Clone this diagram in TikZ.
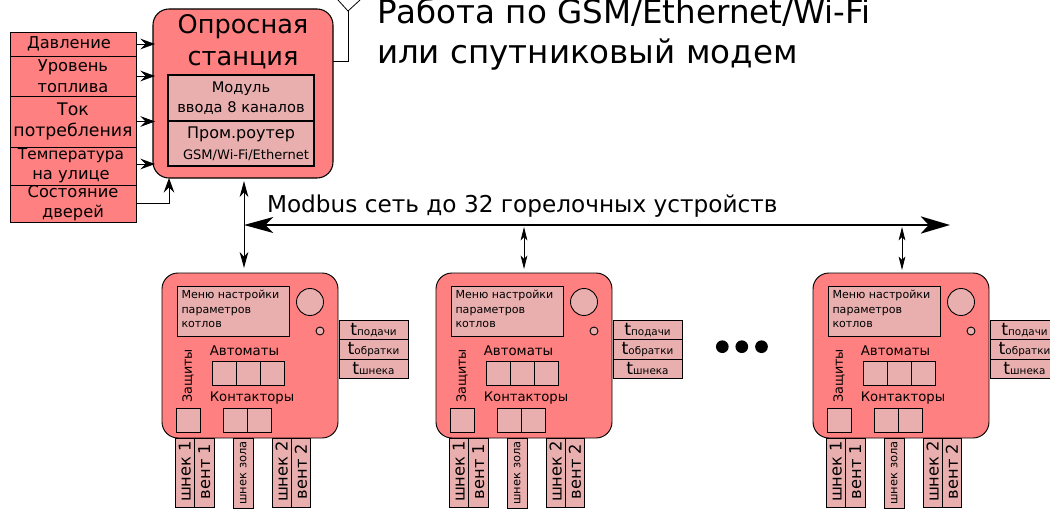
\documentclass[tikz,border=0pt]{standalone}
\usepackage{fontspec}
\setmainfont{DejaVu Sans}
\usetikzlibrary{arrows.meta,calc}
\definecolor{redfill}{HTML}{FF8080}
\definecolor{pinkfill}{HTML}{E9AFAF}
\tikzset{
  redbox/.style={draw=black,fill=redfill,line width=0.7pt,inner sep=0pt,outer sep=0pt,align=center},
  pinkbox/.style={draw=black,fill=pinkfill,line width=0.9pt,inner sep=0pt,outer sep=0pt,align=center},
  wire/.style={draw=black,line width=0.6pt},
  intip/.style={-{Stealth[inset=4pt,length=11pt,width=8pt]},wire,shorten >=-1.5pt},
  bothtip/.style={{Stealth[inset=2.5pt,length=10pt,width=5pt]}-{Stealth[inset=2.5pt,length=10pt,width=5pt]},wire},
  bothtipbig/.style={{Stealth[inset=3.5pt,length=12pt,width=6.5pt]}-{Stealth[inset=3.5pt,length=12pt,width=6.5pt]},wire,line width=0.75pt},
  bigtip/.style={{Stealth[inset=6pt,length=22pt,width=12pt]}-{Stealth[inset=6pt,length=22pt,width=13pt]},line width=1.1pt},
  lbl/.style={inner sep=0pt,outer sep=0pt,align=center},
  dotmark/.style={circle,fill=black,minimum size={12.7*0.75pt},inner sep=0pt},
}
\newcommand{\fz}[2]{\fontsize{#1}{#2}\selectfont}
\newcommand{\pbox}[7][pinkbox]{%
  \node[#1,minimum width={(#4-#2)*0.75pt},minimum height={(#5-#3)*0.75pt}] (#6) at ({(#2+#4)/2},{(#3+#5)/2}) {#7};}
\newcommand{\tlabel}[1]{{\fz{13}{13}t}{\fz{7.8}{8}#1}}
\newcommand{\uprot}[3]{\rotatebox{90}{\hspace*{#1}\fz{#2}{#2}#3}}
\newcommand{\burner}[2]{%
 \begin{scope}[shift={(#2,0)},pinkbox/.append style={line width=0.75pt}]
  \node[redbox,rounded corners=12pt,minimum width={176*0.75pt},minimum height={165*0.75pt}] (#1) at (250,355.5) {};
  \pbox{177}{286}{289}{336}{#1scr}{}
  \node[lbl,align=left,anchor=north west,font=\fz{8.3}{10.6}] (#1txt) at (181.5,290.5) {Меню настройки\\параметров\\котлов};
  \node[draw=black,fill=pinkfill,line width=0.65pt,circle,minimum size={27*0.75pt},inner sep=0pt] (#1k) at (310,302) {};
  \node[draw=black,fill=pinkfill,line width=0.65pt,circle,minimum size={8*0.75pt},inner sep=0pt] (#1l) at (320,331) {};
  \pbox{339}{320}{408}{339.5}{#1ta}{\tlabel{подачи}}
  \pbox{339}{339.5}{408}{359}{#1tb}{\tlabel{обратки}}
  \pbox{339}{359}{408}{378}{#1tc}{\tlabel{шнека}}
  \node[lbl] (#1aut) at (244.5,350.5) {\fz{10}{10}Автоматы};
  \pbox{212}{361}{236}{385}{#1a}{}
  \pbox{236}{361}{260}{385}{#1b}{}
  \pbox{260}{361}{284}{385}{#1c}{}
  \node[lbl] (#1con) at (252,398.5) {\fz{9.9}{10}Контакторы};
  \pbox{223}{408}{247}{432}{#1d}{}
  \pbox{247}{408}{271}{432}{#1e}{}
  \pbox{176}{408}{200}{432}{#1f}{}
  \node[lbl,rotate=90] (#1zas) at (188,376) {\fz{9.6}{10}Защиты};
  \pbox{175}{438}{194.5}{507}{#1g}{\uprot{1.5pt}{12.2}{шнек 1}}
  \pbox{194.5}{438}{214}{507}{#1h}{\uprot{1.5pt}{12.2}{вент 1}}
  \pbox{233.5}{438}{253}{508}{#1i}{\uprot{0pt}{8.6}{шнек зола}}
  \pbox{272}{438}{291.5}{507}{#1m}{\uprot{1.5pt}{12.2}{шнек 2}}
  \pbox{291.5}{438}{310.5}{507}{#1n}{\uprot{1.5pt}{12.2}{вент 2}}
 \end{scope}}
\begin{document}
\begin{tikzpicture}[x=0.75pt,y=-0.75pt]
\useasboundingbox (0,0) rectangle (1050,510);
% sensors
\pbox[redbox,font=\fz{12.2}{15}]{10}{32}{136}{56}{s1}{Давление\hspace*{6pt}}
\pbox[redbox,font=\fz{12.2}{15.5}]{10}{56}{136}{96}{s2}{Уровень\\топлива}
\pbox[redbox,font=\fz{13}{16}]{10}{96}{136}{147}{s3}{Ток\\потребления}
\pbox[redbox,font=\fz{12.2}{15}]{10}{147}{136}{185}{s4}{{\fz{11.5}{15}Температура}\hspace*{3pt}\\на улице\hspace*{3pt}}
\pbox[redbox,font=\fz{12.2}{15}]{10}{185}{136}{222}{s5}{Состояние\\дверей}
% station
\node[redbox,line width=0.8pt,rounded corners=12pt,minimum width={180*0.75pt},minimum height={169*0.75pt}] (st) at (243,93.5) {};
\node[lbl,font=\fz{19.2}{24}] (sttxt) at (243,42) {Опросная\\станция};
\pbox[pinkbox,font=\fz{11}{15}]{168}{75}{314}{121}{mod}{Модуль\\ввода 8 каналов}
\pbox{168}{121}{314}{166}{rt}{\fz{12}{12}Пром.роутер\\[4pt]\hspace*{7.5pt}\fz{9.8}{10}GSM/Wi-Fi/Ethernet}
% antenna
\coordinate (anttop) at (348,11);
\coordinate (antl) at (338,0);
\coordinate (antr) at (360,0);
\draw[wire] (st.east |- 0,61) -- (anttop |- 0,61) -- (anttop);
\draw[wire] (antl) -- (anttop) -- (antr);
\node[lbl,align=left,anchor=north west,font=\fz{24.4}{30}] (title) at (377,-2) {Работа по GSM/Ethernet/Wi-Fi\\или спутниковый модем};
% sensor arrows
\draw[intip] (s1.east) -- (s1.east -| st.west);
\draw[intip] (s2.east) -- (s2.east -| st.west);
\draw[intip] (s3.east) -- (s3.east -| st.west);
\draw[intip] ($(s4.east)+(0,-2)$) -- ($(s4.east -| st.west)+(0,-2)$);
\draw[intip,shorten >=0pt] (s5.east) -| ($(st.south west)+(16,0)$);
% burners
\burner{da}{0}
\burner{db}{274}
\burner{dc}{651}
% bus
\coordinate (busl) at (244,225);
\coordinate (busr) at (950,225);
\draw[bigtip] (busl) -- (busr);
\node[lbl,anchor=base west] (bustxt) at (267,212) {\fz{17.4}{18}Modbus сеть до 32 горелочных устройств};
\draw[bothtipbig] ($(da.north)+(-6,-5)$) -- ($(st.south)+(1,3)$);
\draw[bothtip] (524,227) -- ($(db.north)+(0,-4)$);
\draw[bothtip] (902,227) -- ($(dc.north)+(1,-3)$);
% dots
\node[dotmark] (p1) at (722.3,346.7) {};
\node[dotmark] (p2) at (741.8,346.7) {};
\node[dotmark] (p3) at (761.5,346.7) {};
\end{tikzpicture}
\end{document}
